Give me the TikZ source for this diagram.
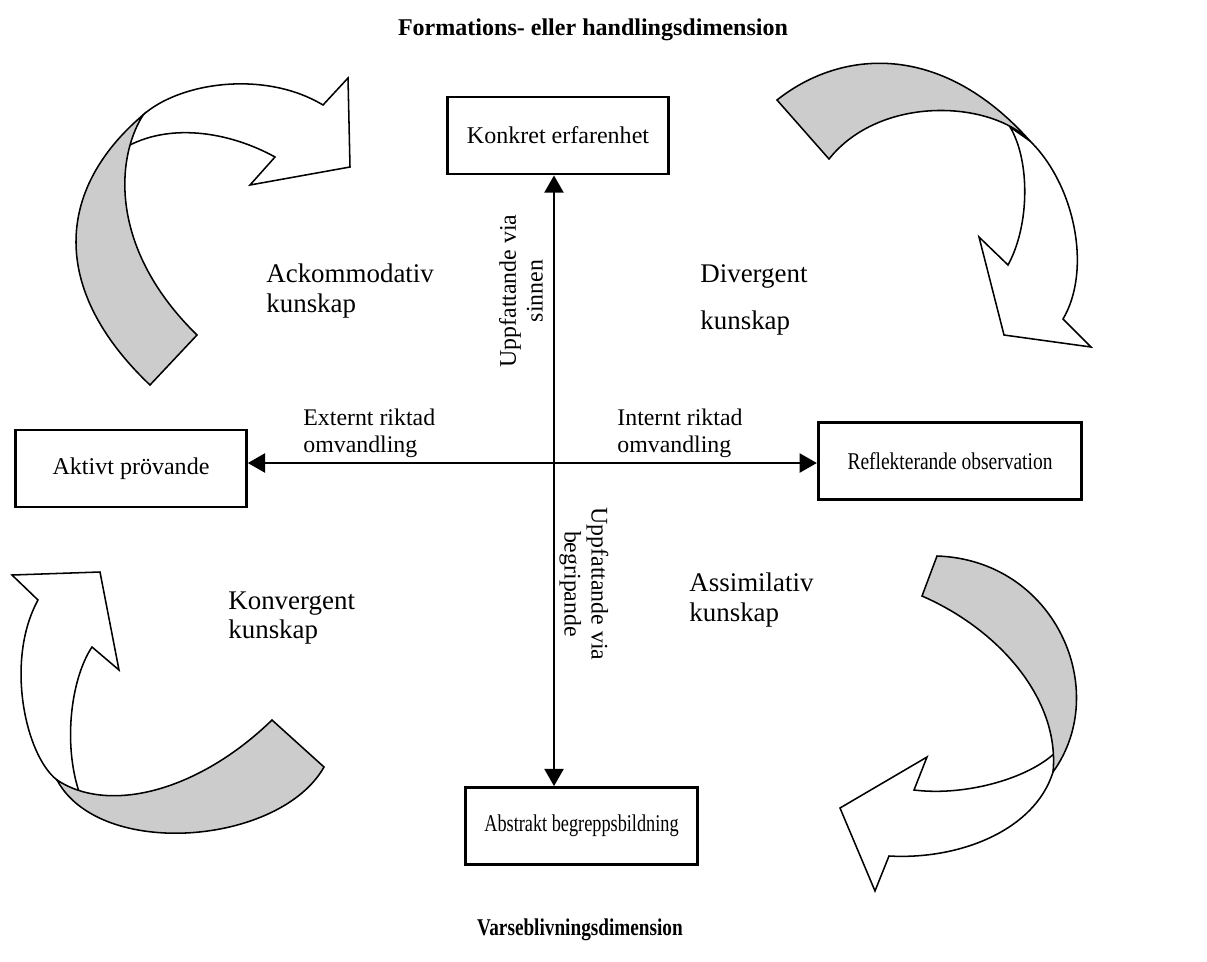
\documentclass[tikz,border=0pt]{standalone}
\usepackage{fontspec}
\setmainfont{Liberation Serif}
\usetikzlibrary{arrows.meta,positioning}

\begin{document}
\begin{tikzpicture}[
  x=0.52pt, y=-0.52pt,
  box/.style={draw, line width=1.5pt, minimum height=40pt, inner sep=2pt,
              font=\fontsize{12.5}{14}\selectfont},
  lbl/.style={align=left, inner sep=0pt, anchor=west,
              font=\fontsize{14}{15.5}\selectfont},
  small/.style={align=left, inner sep=0pt, anchor=west,
                font=\fontsize{12.4}{14}\selectfont},
  turned/.style={align=center, inner sep=0pt, font=\fontsize{12.4}{14}\selectfont},
  title/.style={inner sep=0pt, font=\fontsize{12.5}{14}\selectfont\bfseries},
  axis/.style={{Triangle[length=9pt,width=10pt]}-{Triangle[length=9pt,width=10pt]},
               line width=1pt},
  back/.style={draw, line width=0.8pt, fill=gray!40},
  front/.style={draw, line width=0.8pt, fill=white}
]
\useasboundingbox (0,0) rectangle (1207,961);

\node[title] (top) at (593,30) {Formations- eller handlingsdimension};
\node[title] (bottom) at (580,930) {\scalebox{0.8}[1]{Varseblivningsdimension}};

\node[box, minimum width=115pt] (konk) at (558,135.5) {Konkret erfarenhet};
\node[box, minimum width=120pt] (akt) at (131,468.5) {Aktivt prövande};
\node[box, minimum width=137pt] (refl) at (950,461) {\scalebox{0.81}[1]{Reflekterande observation}};
\node[box, minimum width=121pt] (abst) at (581.5,826) {\scalebox{0.76}[1]{Abstrakt begreppsbildning}};

\coordinate (c) at (554,463);
\draw[axis] (konk.south -| c) -- (abst.north -| c);
\draw[axis] (akt.east |- c) -- (refl.west |- c);

\node[small] (ext) at (303,433) {Externt riktad\\omvandling};
\node[small] (int) at (617,433) {Internt riktad\\omvandling};
\node[turned, rotate=90] (sinn) at (521,291) {Uppfattande via\\sinnen};
\node[turned, rotate=-90] (begr) at (584,584) {Uppfattande via\\begripande};

\node[lbl] (ack) at (266,291) {Ackommodativ\\kunskap};
\node[lbl] (div) at (700,300) {Divergent\\[9pt]kunskap};
\node[lbl] (konv) at (228,618) {Konvergent\\kunskap};
\node[lbl] (ass) at (689,600) {Assimilativ\\kunskap};

\draw[front] (143,115) .. controls (180,82) and (265,70) .. (323,105) -- (348,78)
  -- (350,167) -- (250,185) -- (275,157) .. controls (230,132) and (165,120) .. (118,152) -- cycle;
\draw[back] (150,385) .. controls (50,290) and (55,190) .. (143,115)
  .. controls (115,160) and (110,250) .. (197,335) -- cycle;

\draw[front] (1030,141) .. controls (1075,185) and (1092,270) .. (1063,319) -- (1091,347)
  -- (1004,335) -- (979,237) -- (1008,265) .. controls (1030,225) and (1030,160) .. (1010,127) -- cycle;
\draw[back] (777,100) .. controls (840,50) and (940,40) .. (1030,141)
  .. controls (990,100) and (880,95) .. (829,159) -- cycle;

\draw[front] (57,780) .. controls (25,755) and (5,660) .. (38,600) -- (12,575) -- (100,572)
  -- (119,670) -- (92,647) .. controls (70,680) and (62,750) .. (82,800) -- cycle;
\draw[back] (272,720) -- (324,767) .. controls (280,845) and (100,860) .. (57,780)
  .. controls (110,815) and (200,790) .. (272,720) -- cycle;

\draw[front] (1053,772) .. controls (1035,830) and (960,860) .. (889,856) -- (875,891)
  -- (840,808) -- (927,757) -- (914,790) .. controls (970,797) and (1040,775) .. (1062,745) -- cycle;
\draw[back] (937,556) .. controls (1055,560) and (1112,690) .. (1053,772)
  .. controls (1060,700) and (1000,630) .. (922,596) -- cycle;
\end{tikzpicture}
\end{document}
